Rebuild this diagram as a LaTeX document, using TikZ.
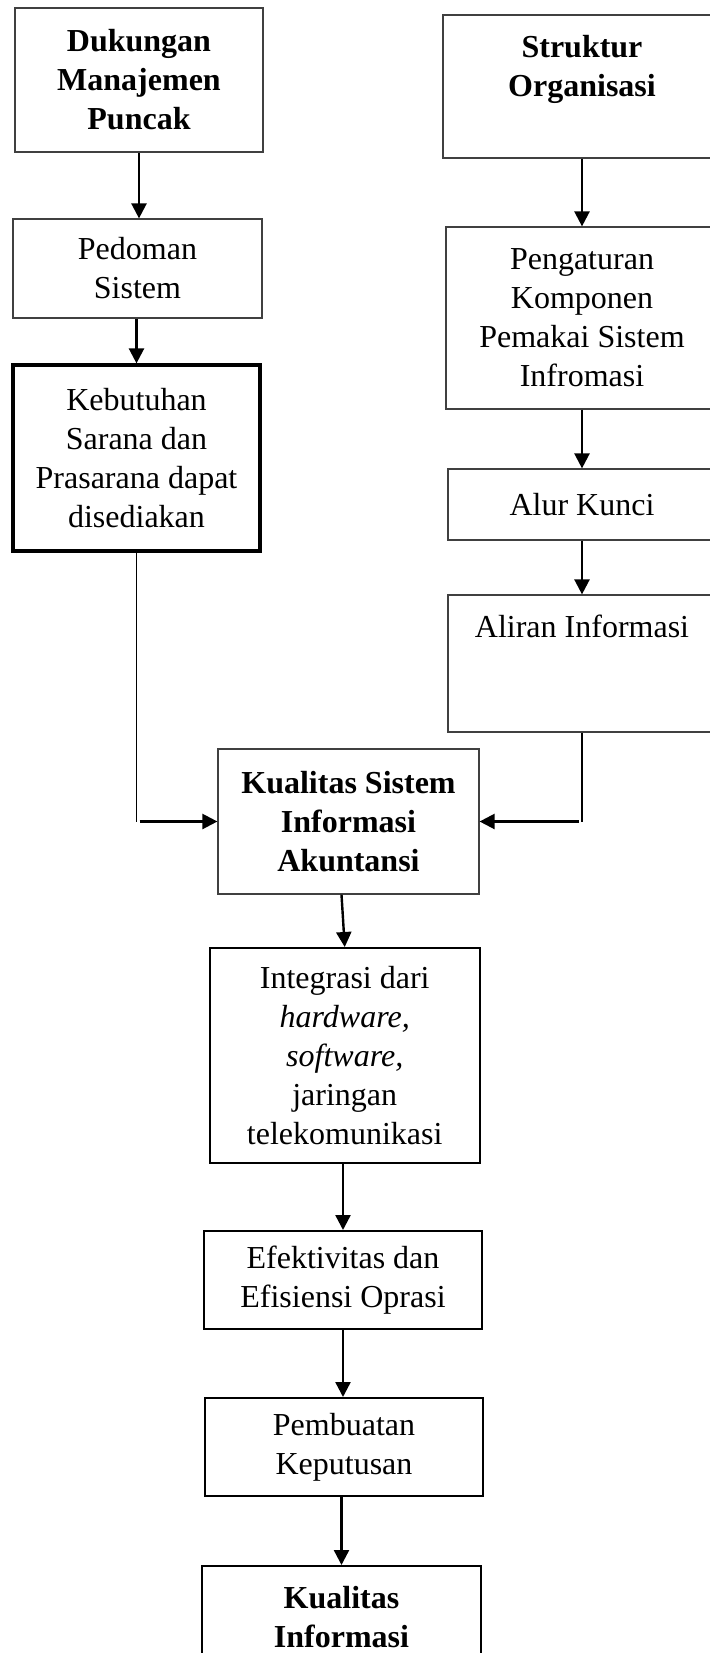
\documentclass[tikz,border=0pt]{standalone}
\usepackage{fontspec}
\setmainfont{Liberation Serif}
\usetikzlibrary{arrows.meta}
\tikzset{every node/.style={align=center, font=\fontsize{16}{19.5}\selectfont},
  box/.style={draw=black!75, line width=0.6pt, inner sep=0pt},
  boxb/.style={draw=black, line width=1pt, inner sep=0pt},
  boxk/.style={draw=black, line width=1.6pt, inner sep=0pt},
  arr/.style={-{Triangle[length=7.5pt,width=7.5pt]}, line width=1.2pt},
  link/.style={line width=0.8pt}}

\begin{document}
\begin{tikzpicture}[x=0.5pt,y=-0.5pt]
  \useasboundingbox (0,0) rectangle (710,1653);
  % kolom kiri
  \node[box, minimum width=124pt, minimum height=72pt] (dmp) at (139,80) {\textbf{Dukungan}\\\textbf{Manajemen}\\\textbf{Puncak}};
  \node[box, minimum width=124.5pt, minimum height=49.5pt] (pedoman) at (137.5,268.5) {Pedoman\\Sistem};
  \node[boxk, minimum width=123.5pt, minimum height=93pt] (keb) at (136.5,458) {Kebutuhan\\Sarana dan\\Prasarana dapat\\disediakan};
  % kolom kanan
  \node[box, minimum width=139pt, minimum height=71.5pt] (org) at (582,86.5) {};
  \node[anchor=north, inner sep=0pt, yshift=-10pt] (orgtxt) at (org.north) {\textbf{Struktur}\\\textbf{Organisasi}};
  \node[box, minimum width=136pt, minimum height=91pt] (atur) at (582,318) {Pengaturan\\Komponen\\Pemakai Sistem\\Infromasi};
  \node[box, minimum width=134pt, minimum height=35.5pt] (alur) at (582,504.5) {Alur Kunci};
  \node[box, minimum width=134pt, minimum height=68.5pt] (aliran) at (582,663.5) {};
  \node[anchor=north, inner sep=0pt, yshift=-10pt] (alirantxt) at (aliran.north) {Aliran Informasi};
  % tengah
  \node[box, minimum width=130.5pt, minimum height=72.5pt] (ksia) at (348.5,821.5) {\textbf{Kualitas Sistem}\\\textbf{Informasi}\\\textbf{Akuntansi}};
  \node[boxb, minimum width=135.25pt, minimum height=107.25pt] (integ) at (344.75,1055.25) {Integrasi dari\\\textit{hardware,}\\\textit{software,}\\jaringan\\telekomunikasi};
  \node[boxb, minimum width=139pt, minimum height=49pt] (efek) at (343,1280) {Efektivitas dan\\Efisiensi Oprasi};
  \node[boxb, minimum width=139pt, minimum height=49pt] (pemb) at (344,1447) {Pembuatan\\Keputusan};
  \node[boxb, minimum width=139.5pt, minimum height=51pt] (kinfo) at (341.5,1617) {\textbf{Kualitas}\\\textbf{Informasi}};

  \draw[arr] (dmp.south) -- (dmp.south |- pedoman.north);
  \draw[arr] (keb.north |- pedoman.south) -- (keb.north);
  \draw[arr] (org.south) -- (atur.north);
  \draw[arr] (atur.south) -- (alur.north);
  \draw[arr] (alur.south) -- (aliran.north);
  \coordinate (lbend) at (keb.south |- ksia.west);
  \coordinate (rbend) at (aliran.south |- ksia.east);
  \draw[link] (keb.south) -- (lbend);
  \draw[arr] ([xshift=1.5pt]lbend) -- (ksia.west);
  \draw[link] (aliran.south) -- (rbend);
  \draw[arr] ([xshift=-1.5pt]rbend) -- (ksia.east);
  \draw[arr] ([xshift=-3.5pt]ksia.south) -- (integ.north);
  \draw[arr] (integ.south -| efek.north) -- (efek.north);
  \draw[arr] (efek.south) -- (efek.south |- pemb.north);
  \draw[arr] (kinfo.north |- pemb.south) -- (kinfo.north);
\end{tikzpicture}
\end{document}
